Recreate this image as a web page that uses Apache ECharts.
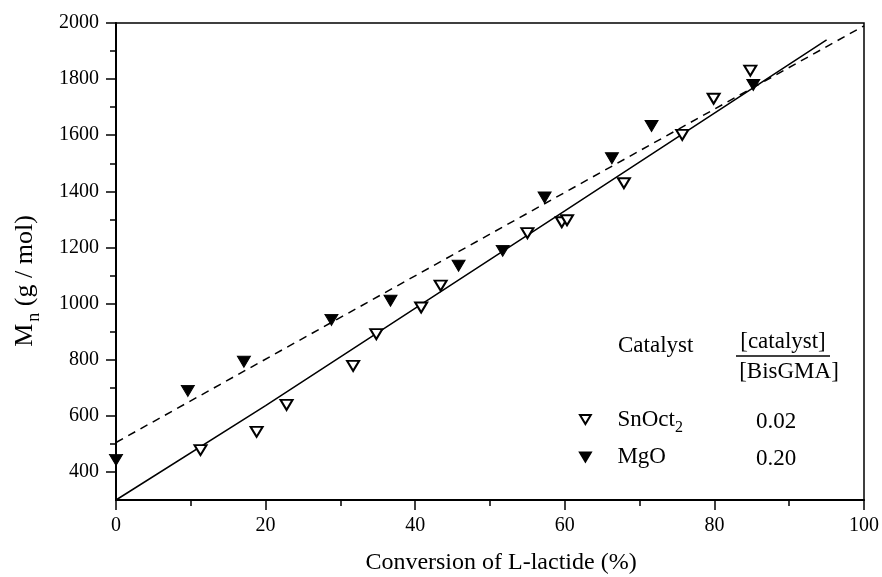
<!doctype html>
<html>
<head>
<meta charset="utf-8">
<script src="https://cdn.jsdelivr.net/npm/echarts@6/dist/echarts.min.js"></script>
<style>
  html, body { margin: 0; padding: 0; background: #fff; }
  #chart { width: 882px; height: 577px; }
</style>
</head>
<body>
<div id="chart"></div>
<script>
// SnOct2 points (open triangles)
var snX = [11.3, 18.8, 22.8, 31.7, 34.8, 40.8, 43.4, 55.0, 59.6, 60.3, 67.9, 75.7, 79.9, 84.8];
var snY = [478, 543, 639, 778, 891, 986, 1064, 1251, 1290, 1297, 1429, 1601, 1730, 1830];
// MgO points (filled triangles)
var mgX = [0, 9.6, 17.1, 28.8, 36.7, 45.8, 51.7, 57.3, 66.3, 71.6, 85.2];
var mgY = [443, 689, 793, 942, 1010, 1135, 1188, 1378, 1518, 1633, 1779];
// fitted lines
var solidX = [0, 20, 60, 95];
var solidY = [300, 636, 1330, 1940];
var dashX = [0, 100];
var dashY = [505, 1990];
// axis ticks
var yMajor = [400, 600, 800, 1000, 1200, 1400, 1600, 1800, 2000];
var yMinor = [500, 700, 900, 1100, 1300, 1500, 1700, 1900];

var FONT = "'Liberation Serif', 'Times New Roman', serif";
var DOWN_TRI = 'path://M0,0 L12,0 L6,10 Z';

function pairs(xs, ys) {
  return xs.map(function (x, i) { return [x, ys[i]]; });
}

var chart = echarts.init(document.getElementById('chart'));

var option = {
  backgroundColor: '#fff',
  animation: false,
  textStyle: { fontFamily: FONT, color: '#000' },
  grid: {
    left: 116, right: 16, top: 23, bottom: 77,
    show: true, borderColor: '#000', borderWidth: 1.5, backgroundColor: 'transparent'
  },
  xAxis: {
    type: 'value', min: 0, max: 100, interval: 20,
    axisLine: { show: true, onZero: false, lineStyle: { color: '#000', width: 2 } },
    axisTick: { show: true, length: 10, lineStyle: { color: '#000', width: 1.5 } },
    minorTick: { show: true, splitNumber: 2, length: 6, lineStyle: { color: '#000', width: 1.5 } },
    axisLabel: { fontSize: 20, color: '#000', fontFamily: FONT, margin: 16 },
    splitLine: { show: false }
  },
  yAxis: [{
    type: 'value', min: 300, max: 2000,
    axisLine: { show: true, onZero: false, lineStyle: { color: '#000', width: 2 } },
    axisTick: { show: true, customValues: yMajor, length: 10, lineStyle: { color: '#000', width: 1.5 } },
    axisLabel: {
      customValues: yMajor, fontSize: 20, color: '#000', fontFamily: FONT, margin: 17,
      formatter: function (v) { return String(v); }
    },
    splitLine: { show: false }
  }, {
    type: 'value', min: 300, max: 2000, position: 'left',
    axisLine: { show: false },
    axisTick: { show: true, customValues: yMinor, length: 6, lineStyle: { color: '#000', width: 1.5 } },
    axisLabel: { show: false },
    splitLine: { show: false }
  }],
  legend: {
    orient: 'vertical',
    left: 574, top: 403,
    itemWidth: 12, itemHeight: 9,
    itemGap: 10,
    selectedMode: false,
    data: [{ name: 'SnOct2', icon: DOWN_TRI }, { name: 'MgO', icon: DOWN_TRI }],
    formatter: function (name) {
      return name === 'SnOct2' ? 'SnOct{s|2}' : name;
    },
    textStyle: {
      fontFamily: FONT, fontSize: 23, color: '#000', padding: [0, 0, 0, 21],
      rich: { s: { fontFamily: FONT, fontSize: 16, padding: [16, 0, 0, 0] } }
    }
  },
  graphic: [
    { type: 'text', x: 501, y: 563,
      style: { text: 'Conversion of L-lactide (%)', font: '24px ' + FONT, fill: '#000', align: 'center', verticalAlign: 'middle' } },
    { type: 'text', x: 25, y: 281, rotation: Math.PI / 2,
      style: { text: 'M{s|n} (g / mol)', font: '26px ' + FONT, fill: '#000', align: 'center', verticalAlign: 'middle',
        rich: { s: { font: '18px ' + FONT, fill: '#000', padding: [18, 0, 0, 2] } } } },
    { type: 'text', x: 618, y: 346,
      style: { text: 'Catalyst', font: '23px ' + FONT, fill: '#000', align: 'left', verticalAlign: 'middle' } },
    { type: 'text', x: 783, y: 342,
      style: { text: '[catalyst]', font: '23px ' + FONT, fill: '#000', align: 'center', verticalAlign: 'middle' } },
    { type: 'line', shape: { x1: 736, y1: 356, x2: 830, y2: 356 }, style: { stroke: '#000', lineWidth: 1.5 } },
    { type: 'text', x: 789, y: 372,
      style: { text: '[BisGMA]', font: '23px ' + FONT, fill: '#000', align: 'center', verticalAlign: 'middle' } },
    { type: 'text', x: 776, y: 422,
      style: { text: '0.02', font: '23px ' + FONT, fill: '#000', align: 'center', verticalAlign: 'middle' } },
    { type: 'text', x: 776, y: 459,
      style: { text: '0.20', font: '23px ' + FONT, fill: '#000', align: 'center', verticalAlign: 'middle' } }
  ],
  series: [
    {
      name: 'fitSn', type: 'line', data: pairs(solidX, solidY),
      showSymbol: false, symbol: 'none', z: 1,
      lineStyle: { color: '#000', width: 1.5, type: 'solid' }
    },
    {
      name: 'fitMg', type: 'line', data: pairs(dashX, dashY),
      showSymbol: false, symbol: 'none', z: 1,
      lineStyle: { color: '#000', width: 1.5, type: [8, 6] }
    },
    {
      name: 'SnOct2', type: 'scatter', data: pairs(snX, snY),
      symbol: 'triangle', symbolRotate: 180, symbolSize: [12, 10], z: 3,
      itemStyle: { color: '#fff', borderColor: '#000', borderWidth: 2, opacity: 1 }
    },
    {
      name: 'MgO', type: 'scatter', data: pairs(mgX, mgY),
      symbol: 'triangle', symbolRotate: 180, symbolSize: [13, 11], z: 3,
      itemStyle: { color: '#000', borderColor: '#000', borderWidth: 1, opacity: 1 }
    }
  ]
};

chart.setOption(option);
</script>
</body>
</html>
